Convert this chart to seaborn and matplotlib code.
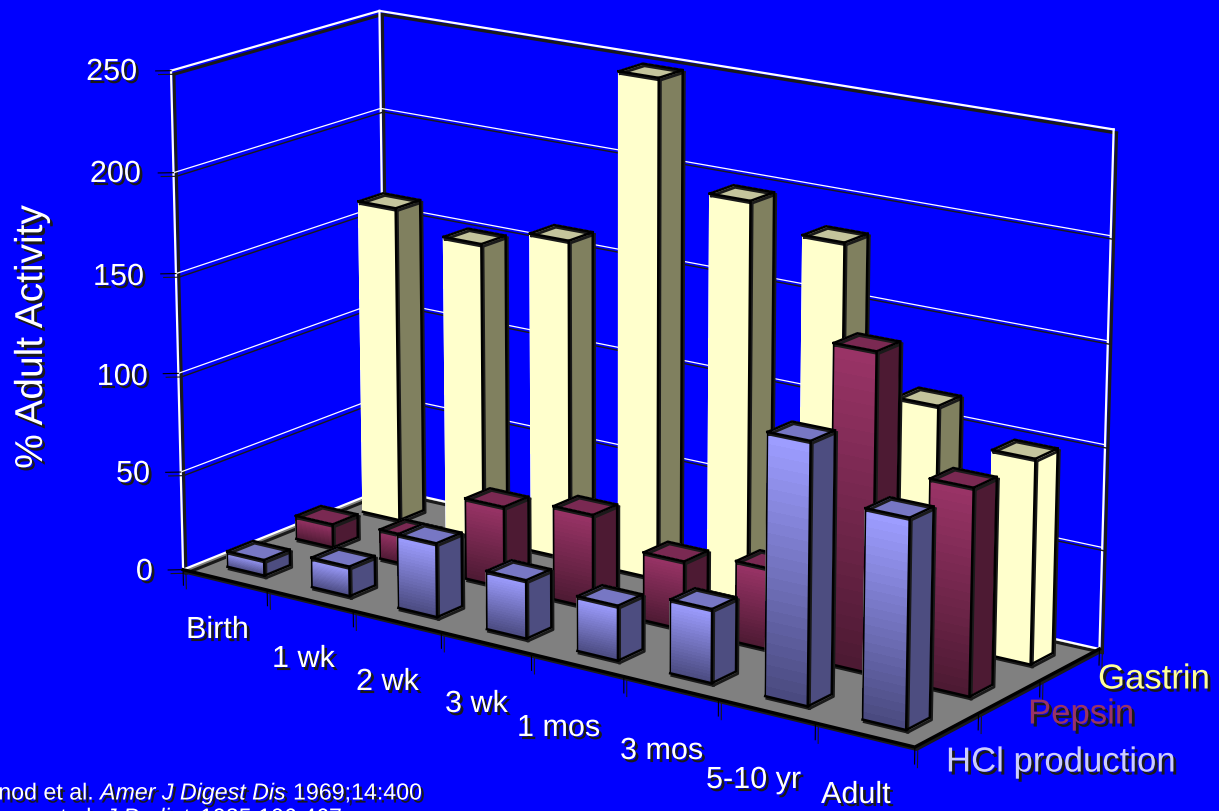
import numpy as np
import matplotlib
matplotlib.use('Agg')
import matplotlib.pyplot as plt
import matplotlib.patheffects as pe
import seaborn as sns
from mpl_toolkits.mplot3d.art3d import Line3DCollection, Poly3DCollection

# Age groups, series and percent-of-adult values
ages = ['Birth', '1 wk', '2 wk', '3 wk', '1 mos', '3 mos', '5-10 yr', 'Adult']
series = ['HCl production', 'Pepsin', 'Gastrin']
hcl = [8, 15, 37, 29, 27, 36, 126, 100]
pepsin = [12, 15, 41, 47, 34, 40, 155, 100]
gastrin = [162, 152, 162, 250, 198, 186, 116, 100]
z_ticks = [0, 50, 100, 150, 200, 250]

sns.set_theme(style='white')
plt.rcParams['font.family'] = ['Liberation Sans', 'DejaVu Sans']

W, H = 1219, 812
BLUE = '#0000ff'
fig = plt.figure(figsize=(W / 100, H / 100), dpi=100, facecolor=BLUE)

# Camera and placement of the square 3D axes in figure pixels
SCALE, OFF_X, OFF_Y = 5756.38, 631.52, 358.51
side = SCALE * 0.185
left = OFF_X - SCALE * 0.095
bottom = H - OFF_Y - SCALE * 0.095
ax = fig.add_axes([left / W, bottom / H, side / W, side / H], projection='3d')
ax.patch.set_visible(False)
ax.computed_zorder = False
ax.set_xlim(0, len(ages))
ax.set_ylim(0, len(series))
ax.set_zlim(0, 250)
ax.view_init(elev=16.3233, azim=-54.561, roll=-0.0543)
ax.set_proj_type('persp', focal_length=0.9185)
ax.set_box_aspect((1, 0.379, 0.5906))
ax.set_axis_off()


def add_lines(segments, color, lw, z, shadow_lw=None, offset=(2.1, -2.6)):
    effects = [pe.Normal()]
    if offset is not None:
        effects.insert(0, pe.SimpleLineShadow(offset=offset, shadow_color='k', alpha=1.0,
                                              linewidth=shadow_lw or lw))
    coll = Line3DCollection(segments, colors=color, linewidths=lw, zorder=z,
                            capstyle='projecting', path_effects=effects)
    ax.add_collection3d(coll, autolim=False)


X_MAX, Y_MAX, Z_MAX = len(ages), len(series), 250

# Floor
floor = Poly3DCollection([[(0, 0, 0), (X_MAX, 0, 0), (X_MAX, Y_MAX, 0), (0, Y_MAX, 0)]],
                         facecolors='#808080', edgecolors='none', zorder=1)
ax.add_collection3d(floor, autolim=False)

# Walls: heavy frame plus thin gridlines
frame = [[(0, 0, 0), (0, 0, Z_MAX)], [(0, Y_MAX, 0), (0, Y_MAX, Z_MAX)],
         [(X_MAX, Y_MAX, 0), (X_MAX, Y_MAX, Z_MAX)],
         [(0, 0, Z_MAX), (0, Y_MAX, Z_MAX), (X_MAX, Y_MAX, Z_MAX)],
         [(0, 0, 0), (0, Y_MAX, 0), (X_MAX, Y_MAX, 0)]]
add_lines(frame, 'white', 1.6, 2, shadow_lw=2.2)
grid = [[(0, 0, v), (0, Y_MAX, v), (X_MAX, Y_MAX, v)] for v in z_ticks[1:-1]]
add_lines(grid, 'white', 0.9, 2, shadow_lw=1.0)

# Front edges of the floor
add_lines([[(0, 0, 0), (X_MAX, 0, 0), (X_MAX, Y_MAX, 0)]], 'black', 2.4, 3, offset=(1.2, -1.6))

# Tick marks
ticks = [[(0, 0, v), (-0.106, -0.086, v)] for v in z_ticks]
ticks += [[(i, 0, 0), (i, 0, -8)] for i in range(len(ages) + 1)]
ticks += [[(X_MAX, j, 0), (X_MAX, j, -8)] for j in range(1, len(series) + 1)]
add_lines(ticks, 'black', 0.8, 3)

# Face colours per series: gradient top/bottom of the front, side, lid
styles = {
    'HCl production': dict(front=('#9d9dff', '#4a4a80'), side='#4d4d80', lid='#7777c4', left_edge=True),
    'Pepsin': dict(front=('#993366', '#4d1a33'), side='#4d1a33', lid='#7a2952', left_edge=True),
    'Gastrin': dict(front=('#ffffcc', '#ffffcc'), side='#80805f', lid='#c4c49c', left_edge=False),
}
BAR_X, BAR_W, BAR_Y, BAR_D = 0.28, 0.44, 0.30, 0.37
N_STRIPS = 24


def draw_bar(i, j, value, style, z):
    x0, x1 = i + BAR_X, i + BAR_X + BAR_W
    y0, y1 = j + BAR_Y, j + BAR_Y + BAR_D
    faces = [style['lid'], style['lid'], style['side'], style['side'], style['side'], style['side']]
    ax.bar3d(x0, y0, 0, BAR_W, BAR_D, value, color=faces, shade=False, zorder=z)
    # Front face as a stack of strips running from dark at the floor to light at the top
    zs = np.linspace(0, value, N_STRIPS + 1)
    xx, zz = np.meshgrid([x0, x1], zs)
    yy = np.full_like(xx, y0)
    ramp = sns.blend_palette([style['front'][1], style['front'][0]], N_STRIPS)
    colours = np.array([[tuple(c)[:3] + (1.0,)] for c in ramp])
    ax.plot_surface(xx, yy, zz, facecolors=colours, rstride=1, cstride=1, shade=False,
                    linewidth=0, antialiased=False, zorder=z + 0.1)
    outline = [[(x0, y0, 0), (x1, y0, 0), (x1, y1, 0), (x1, y1, value)],
               [(x0, y0, value), (x1, y0, value), (x1, y1, value), (x0, y1, value), (x0, y0, value)],
               [(x1, y0, value), (x1, y0, 0)]]
    add_lines(outline, 'black', 1.8, z + 0.2, shadow_lw=2.0, offset=(1.2, -1.6))
    if style['left_edge']:
        add_lines([[(x0, y0, value), (x0, y0, 0)]], 'black', 1.2, z + 0.2, offset=None)


values_by_series = [hcl, pepsin, gastrin]
order = 10
for j in reversed(range(len(series))):
    for i, value in enumerate(values_by_series[j]):
        style = dict(styles[series[j]])
        if series[j] == 'Gastrin' and ages[i] == 'Adult':
            style['side'] = '#ffffcc'
        draw_bar(i, j, value, style, order)
        order += 1

ax.set_xlim(0, len(ages))
ax.set_ylim(0, len(series))
ax.set_zlim(0, 250)

shadow = [pe.withSimplePatchShadow(offset=(2.0, -2.2), shadow_rgbFace='k', alpha=1.0)]


def label(px, py, text, size=22, color='white', ha='left', **kw):
    fig.text(px / W, 1 - (py + 3) / H, text, fontsize=size, color=color, ha=ha, va='center',
             path_effects=shadow, zorder=10, **kw)


# Value axis labels
z_label_pos = [(153, 570), (150, 472), (148, 375), (144, 275), (141, 172), (137, 70)]
for v, (px, py) in zip(z_ticks, z_label_pos):
    label(px, py, str(v), ha='right')
label(32, 335, '% Adult Activity', size=28, ha='center', rotation=90)

# Age labels along the front edge
age_label_pos = [(186, 628), (272, 657), (356, 680), (445, 702),
                 (517, 726), (620, 749), (706, 778), (821, 793)]
for name, (px, py) in zip(ages, age_label_pos):
    label(px, py, name)

# Series names along the right edge
series_colours = {'Gastrin': '#ffff99', 'Pepsin': '#993366', 'HCl production': '#ccccff'}
series_label_pos = {'Gastrin': (1098, 677), 'Pepsin': (1028, 712), 'HCl production': (946, 760)}
for name in series:
    px, py = series_label_pos[name]
    label(px, py, name, size=25, color=series_colours[name])

# References at the foot of the slide
label(93, 791, 'Agunod et al.', size=16.7, ha='right')
label(100, 791, 'Amer J Digest Dis', size=16.7, style='italic')
label(293, 791, '1969;14:400', size=16.7)
label(97, 816, 'Hyman et al.', size=16.7, ha='right')
label(105, 816, 'J Pediatr', size=16.7, style='italic')
label(200, 816, '1985;106:467', size=16.7)

fig.savefig('out.png', dpi=100, facecolor=BLUE)
